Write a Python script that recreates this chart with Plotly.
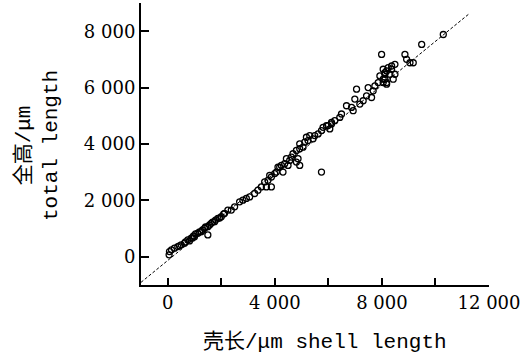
import plotly.graph_objects as go

# Shell length (µm) and total length (µm)
shell_length = [
    50, 64, 251, 374, 502, 625, 749, 876, 999, 1123, 1250, 1374, 1497, 1497, 1624, 1748,
    1872, 1999, 2122, 2246, 138, 438, 663, 925, 1037, 1187, 1299, 1411, 1561, 1673, 1785,
    1935, 2085, 812, 962,
    2373, 2497, 2684, 2807, 2935, 3058, 3245, 3369, 3496, 3683, 3619, 3743, 3807, 3870,
    3994, 4117, 4245, 4304,
    3870, 4057, 4181, 4368, 4432, 4555, 4619, 4679, 4806, 4866, 4806, 4929, 4929, 5053,
    5117, 5180, 5240, 5304, 5427, 5491, 5615, 5742, 5802, 5929, 6052, 6116, 5742, 4492, 4929,
    5989, 6116, 6239, 6426, 6490, 6677, 6865, 6925, 6988, 7052, 7175, 7299, 7426, 7486,
    7613, 7673, 7737, 7860, 7924, 8047, 8111, 8175, 8298, 8362, 8422,
    7988, 8047, 8111, 8175, 8235, 8362, 8486, 8047, 8175, 8111, 8486, 8860, 8923, 9047,
    9170, 9485, 10293,
]
total_length = [
    70, 187, 307, 363, 423, 483, 599, 659, 715, 835, 892, 1011, 1068, 775, 1188, 1244,
    1364, 1420, 1540, 1656, 247, 388, 529, 670, 810, 881, 951, 1057, 1128, 1233, 1304,
    1374, 1515, 564, 740,
    1656, 1773, 1949, 2009, 2069, 2125, 2245, 2361, 2477, 2477, 2654, 2713, 2890, 2477,
    2950, 3182, 3242, 3006,
    2830, 3006, 3182, 3302, 3478, 3418, 3535, 3654, 3358, 3478, 3771, 3831, 4007, 3887,
    4063, 4239, 4123, 4299, 4183, 4299, 4359, 4475, 4592, 4652, 4535, 4712, 3006, 3242, 3242,
    4652, 4768, 4828, 4944, 5064, 5356, 5297, 5180, 5593, 5945, 5416, 5533, 5709, 6001,
    5649, 5885, 6061, 6178, 6414, 6297, 6530, 6178, 6474, 6650, 6297,
    7178, 6650, 6474, 6590, 6706, 6766, 6826, 6178, 6121, 6297, 6474, 7178, 7002, 6882,
    6882, 7531, 7883,
]

# Fitted line
fit_slope = 0.777
fit_intercept = -129
fit_x = [-1000, 11260]
fit_y = [fit_slope * v + fit_intercept for v in fit_x]

x_tickvals = [0, 2000, 4000, 6000, 8000, 10000, 12000]
x_ticktext = ["0", "", "4 000", "", "8 000", "", "12 000"]
y_tickvals = [0, 2000, 4000, 6000, 8000]
y_ticktext = ["0", "2 000", "4 000", "6 000", "8 000"]

x_title = "壳长/μm shell length"
y_title = "全高/μm<br>total length"

fig = go.Figure()
fig.add_trace(go.Scatter(
    x=fit_x, y=fit_y, mode="lines",
    line=dict(color="black", width=1, dash="3px,2px"),
    showlegend=False, hoverinfo="skip",
))
fig.add_trace(go.Scatter(
    x=shell_length, y=total_length, mode="markers",
    marker=dict(symbol="circle-open", size=6, color="black", line=dict(width=1.3, color="black")),
    showlegend=False,
))

tick_font = dict(family="DejaVu Serif", size=18, color="black")
title_font = dict(family="Liberation Mono, Noto Sans CJK SC", size=21, color="black")

fig.update_layout(
    width=527, height=358,
    margin=dict(l=141, r=38, t=3, b=73),
    paper_bgcolor="white", plot_bgcolor="white",
    xaxis=dict(
        range=[-1000, 12000], tickmode="array", tickvals=x_tickvals, ticktext=x_ticktext,
        showgrid=False, zeroline=False, showline=True, linecolor="black", linewidth=2,
        ticks="inside", ticklen=7, tickwidth=1.5, tickcolor="black",
        tickfont=tick_font, automargin=False,
    ),
    yaxis=dict(
        range=[-1000, 9000], tickmode="array", tickvals=y_tickvals, ticktext=y_ticktext,
        showgrid=False, zeroline=False, showline=True, linecolor="black", linewidth=2,
        ticks="inside", ticklen=8, tickwidth=1.5, tickcolor="black",
        tickfont=tick_font, automargin=False,
    ),
    annotations=[
        dict(text=x_title, xref="paper", yref="paper", x=0.529, y=-0.202,
             xanchor="center", yanchor="middle", showarrow=False, font=title_font),
        dict(text=y_title, xref="paper", yref="paper", x=-0.299, y=0.496,
             xanchor="center", yanchor="middle", textangle=-90, showarrow=False,
             font=title_font),
    ],
)

fig.write_html(
    "out.html",
    config={"displayModeBar": False},
    post_script="document.body.style.margin='0';document.body.style.overflow='hidden';",
)
